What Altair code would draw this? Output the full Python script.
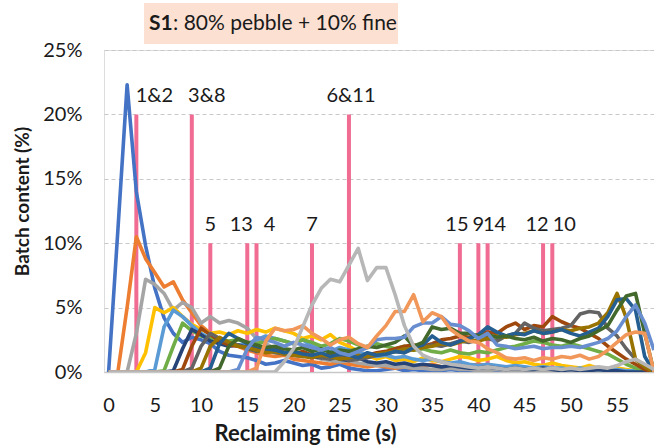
import altair as alt
import pandas as pd

# Reclaiming time axis (s)
times = list(range(60))

# Batch content (%) of each batch over reclaiming time
batch_01 = [0, 11.0, 22.3, 14.0, 9.8, 6.5, 4.2, 3.0, 2.3, 2.7,
            2.5, 2.2, 1.6, 1.3, 1.2, 1.1, 0.9, 0.6, 0.7, 0.9,
            0.7, 0.5, 0.6, 0.3, 0.4, 0.6, 0.3, 0.2, 0.1, 0.1,
            0.2, 0.3, 0.1, 0.2, 0.1, 0.0, 0.1, 0.2, 0.1, 0.0,
            0.1, 0.0, 0.0, 0.1, 0.0, 0.0, 0.1, 0.0, 0.0, 0.0,
            0.0, 0.1, 0.0, 0.0, 0.0, 0.1, 0.0, 0.0, 0.0, 0.0]
batch_02 = [0, 0, 5.0, 10.5, 8.8, 7.7, 6.6, 7.0, 5.6, 4.6,
            3.6, 3.0, 2.6, 2.2, 2.0, 1.7, 1.5, 1.3, 1.2, 1.3,
            1.0, 0.9, 0.8, 0.7, 0.6, 0.8, 0.6, 0.5, 0.4, 0.5,
            0.4, 0.3, 0.4, 0.3, 0.5, 0.6, 0.4, 0.3, 0.4, 0.5,
            0.6, 0.5, 0.4, 0.3, 0.2, 0.3, 0.2, 0.1, 0.2, 0.1,
            0.1, 0.2, 0.1, 0.1, 0.0, 0.1, 0.0, 0.0, 0.0, 0.0]
batch_03 = [0, 0, 0, 3.0, 7.2, 6.8, 6.1, 4.8, 5.4, 5.0,
            3.8, 4.3, 3.8, 4.0, 3.8, 3.4, 2.6, 2.2, 1.8, 1.6,
            1.5, 1.3, 1.2, 1.0, 0.9, 0.8, 0.9, 0.7, 0.6, 0.5,
            0.5, 0.4, 0.4, 0.3, 0.3, 0.2, 0.2, 0.3, 0.2, 0.2,
            0.1, 0.1, 0.2, 0.1, 0.1, 0.0, 0.1, 0.0, 0.0, 0.0,
            0.0, 0.0, 0.1, 0.0, 0.0, 0.0, 0.0, 0.0, 0.0, 0.0]
batch_04 = [0, 0, 0, 0, 1.5, 5.0, 4.6, 5.0, 4.3, 3.7,
            3.3, 3.0, 3.1, 2.9, 3.2, 3.0, 3.3, 3.1, 3.4, 3.2,
            3.0, 2.6, 2.8, 2.5, 2.9, 2.3, 2.0, 1.6, 1.3, 1.0,
            1.2, 0.9, 1.0, 0.8, 1.1, 0.9, 0.8, 1.0, 1.2, 1.1,
            0.9, 1.0, 1.2, 0.9, 0.7, 0.8, 0.6, 0.5, 0.7, 0.5,
            0.4, 0.3, 0.5, 0.3, 0.2, 0.3, 0.2, 0.1, 0.0, 0.0]
batch_05 = [0, 0, 0, 0, 0, 0.2, 3.5, 4.8, 4.3, 3.6,
            3.0, 2.6, 2.4, 2.3, 2.1, 2.2, 2.5, 2.8, 2.6, 2.4,
            2.2, 2.5, 2.0, 1.8, 1.6, 1.9, 1.7, 1.5, 1.4, 1.2,
            1.3, 1.1, 1.2, 1.0, 0.9, 1.0, 0.8, 0.7, 0.8, 0.6,
            0.5, 0.6, 0.5, 0.4, 0.5, 0.4, 0.3, 0.4, 0.3, 0.3,
            0.2, 0.3, 0.2, 0.2, 0.1, 0.2, 0.1, 0.1, 0.0, 0.0]
batch_06 = [0, 0, 0, 0, 0, 0, 0.1, 2.0, 3.8, 3.2,
            2.8, 2.6, 2.5, 2.4, 2.5, 2.3, 2.2, 2.4, 2.6, 2.4,
            2.2, 2.5, 2.3, 2.0, 2.2, 2.6, 2.4, 2.1, 1.9, 2.2,
            2.0, 1.8, 2.0, 1.7, 1.8, 1.6, 1.5, 1.7, 1.5, 1.4,
            1.6, 1.5, 1.7, 1.9, 2.0, 2.2, 2.4, 2.3, 2.1, 2.0,
            2.2, 2.0, 1.8, 1.6, 1.4, 1.0, 0.6, 0.3, 0.1, 0.0]
batch_07 = [0, 0, 0, 0, 0, 0, 0, 0.1, 1.8, 3.3,
            2.9, 2.4, 2.2, 2.0, 2.1, 1.9, 1.7, 1.6, 1.8, 1.5,
            1.3, 1.4, 1.2, 1.1, 1.3, 1.0, 0.9, 1.1, 0.8, 0.7,
            0.8, 0.6, 0.7, 0.5, 0.6, 0.5, 0.4, 0.5, 0.4, 0.3,
            0.3, 0.4, 0.3, 0.2, 0.3, 0.2, 0.2, 0.3, 0.2, 0.1,
            0.2, 0.1, 0.1, 0.2, 0.1, 0.1, 0.0, 0.0, 0.0, 0.0]
batch_08 = [0, 0, 0, 0, 0, 0, 0, 0, 0.2, 2.0,
            3.4, 2.9, 2.4, 2.1, 2.0, 1.9, 1.8, 1.6, 1.7, 1.5,
            1.4, 1.6, 1.3, 1.2, 1.4, 1.3, 1.1, 1.2, 1.3, 1.5,
            1.6, 1.8, 2.0, 2.1, 2.0, 2.2, 2.5, 2.6, 2.8, 2.7,
            2.9, 3.1, 3.0, 3.5, 3.8, 3.3, 3.6, 3.5, 4.3, 3.9,
            3.6, 3.4, 3.0, 2.6, 2.0, 1.5, 1.0, 0.6, 0.2, 0.0]
batch_09 = [0, 0, 0, 0, 0, 0, 0, 0, 0, 0.3,
            2.0, 3.0, 2.6, 2.3, 2.1, 1.8, 1.6, 1.7, 1.5, 1.4,
            1.3, 1.2, 1.4, 1.1, 1.0, 1.2, 0.9, 1.0, 1.1, 1.3,
            1.4, 1.6, 1.5, 1.8, 1.9, 2.1, 2.0, 2.2, 2.4, 2.3,
            2.5, 2.6, 2.4, 2.8, 3.0, 3.8, 3.4, 3.2, 3.3, 3.4,
            3.6, 4.5, 4.7, 4.6, 3.4, 2.8, 1.8, 1.0, 0.4, 0.0]
batch_10 = [0, 0, 0, 0, 0, 0, 0, 0, 0, 0,
            0.3, 2.0, 2.7, 2.3, 2.0, 1.9, 1.7, 1.5, 1.6, 1.4,
            1.3, 1.2, 1.1, 1.3, 1.2, 1.0, 1.1, 1.3, 1.2, 1.4,
            1.5, 1.6, 1.8, 1.7, 1.9, 2.0, 2.2, 2.1, 2.3, 2.5,
            2.4, 2.6, 2.8, 2.7, 2.9, 3.0, 3.2, 3.0, 3.1, 3.3,
            3.2, 3.4, 3.5, 3.8, 4.6, 6.1, 4.2, 1.0, 0.4, 0.0]
batch_11 = [0, 0, 0, 0, 0, 0, 0, 0, 0, 0,
            0, 0.3, 2.2, 3.0, 2.6, 2.2, 2.0, 1.8, 1.7, 1.5,
            1.6, 1.4, 1.3, 1.5, 1.2, 1.4, 1.3, 1.1, 1.5, 1.3,
            1.4, 1.6, 1.5, 1.9, 2.1, 2.8, 2.3, 2.1, 2.4, 2.6,
            2.9, 3.5, 3.1, 2.8, 3.0, 2.9, 3.2, 3.0, 3.1, 3.3,
            3.0, 2.8, 3.1, 3.4, 4.3, 5.6, 5.7, 4.8, 1.2, 0.0]
batch_12 = [0, 0, 0, 0, 0, 0, 0, 0, 0, 0,
            0, 0, 0.3, 2.0, 2.6, 2.3, 2.1, 1.9, 2.0, 1.8,
            1.7, 1.9, 1.6, 1.8, 1.5, 1.7, 1.6, 1.8, 2.0, 1.9,
            2.1, 2.3, 2.8, 2.0, 2.3, 3.5, 3.3, 3.4, 3.0, 3.0,
            2.8, 2.9, 2.7, 2.8, 2.6, 2.5, 2.7, 2.4, 2.6, 2.5,
            2.3, 2.6, 2.8, 3.2, 3.6, 4.8, 5.9, 6.1, 3.0, 0.0]
batch_13 = [0, 0, 0, 0, 0, 0, 0, 0, 0, 0,
            0, 0, 0, 0, 0.2, 1.8, 2.7, 2.5, 2.3, 2.0,
            2.3, 2.1, 1.9, 1.7, 1.9, 1.5, 1.3, 1.6, 1.9, 2.5,
            2.6, 2.6, 2.7, 3.5, 3.8, 3.8, 4.3, 3.7, 3.6, 3.2,
            2.6, 3.0, 2.1, 2.0, 1.8, 1.9, 2.0, 1.8, 1.9, 1.9,
            2.0, 1.9, 2.1, 2.3, 2.6, 3.2, 4.3, 5.2, 3.8, 1.7]
batch_14 = [0, 0, 0, 0, 0, 0, 0, 0, 0, 0,
            0, 0, 0, 0, 0, 0, 0.3, 2.4, 3.4, 3.2,
            3.3, 3.6, 3.0, 2.6, 2.1, 2.5, 2.7, 2.2, 1.9, 2.8,
            3.6, 4.7, 4.7, 6.0, 3.9, 4.6, 4.3, 3.3, 2.8, 2.4,
            2.3, 1.8, 1.5, 1.1, 1.0, 1.1, 0.9, 1.1, 1.0, 1.2,
            1.1, 1.3, 1.0, 1.2, 1.7, 2.3, 2.9, 3.1, 3.0, 0.0]
batch_15 = [0, 0, 0, 0, 0, 0, 0, 0, 0, 0,
            0, 0, 0, 0, 0, 0, 0, 0, 0, 0.8,
            1.8, 3.5, 5.2, 6.5, 7.2, 7.0, 8.3, 9.6, 7.1, 8.1,
            8.1, 6.0, 3.6, 2.0, 1.3, 1.0, 0.8, 0.6, 0.5, 0.4,
            0.3, 0.4, 0.3, 0.2, 0.3, 0.2, 0.3, 0.2, 0.3, 0.2,
            0.3, 0.2, 0.3, 0.4, 0.3, 0.5, 0.8, 1.0, 0.6, 0.2]

batches = [batch_01, batch_02, batch_03, batch_04, batch_05,
           batch_06, batch_07, batch_08, batch_09, batch_10,
           batch_11, batch_12, batch_13, batch_14, batch_15]
batch_names = [f"Batch {i:02d}" for i in range(1, 16)]
batch_colors = ["#4472C4", "#ED7D31", "#A5A5A5", "#FFC000", "#5B9BD5",
                "#70AD47", "#264478", "#9E480E", "#636363", "#997300",
                "#255E91", "#43682B", "#698ED0", "#F1975A", "#B7B7B7"]

# Sampling moments (s), their nominal height (%) and the batches they mark
marker_times = [3, 9, 26, 11, 15, 16, 22, 38, 40, 41, 47, 48]
marker_heights = [20, 20, 20, 10, 10, 10, 10, 10, 10, 10, 10, 10]
marker_labels = ["1&2", "3&8", "6&11", "5", "13", "4", "7", "15", "9", "14", "12", "10"]
# horizontal nudge of each label away from its neighbours, in pixels
label_shift = [18, 15, 2, 0, -6, 13, 0, -3, 0, 7, -6, 12]

PX_PER_SECOND = 550 / 59.5

rows = []
for name, values in zip(batch_names, batches):
    for t, v in zip(times, values):
        rows.append({"time": t, "content": v, "batch": name})
lines_df = pd.DataFrame(rows)

markers_df = pd.DataFrame({
    "time": marker_times,
    "height": marker_heights,
    "base": [0] * len(marker_times),
    "label": marker_labels,
    "shift": label_shift,
})

FONT = "Lato"
TEXT = "#1a1a1a"

x_scale = alt.Scale(domain=[-0.5, 59], nice=False, zero=False)
y_scale = alt.Scale(domain=[0, 25], nice=False)

x_axis = alt.Axis(
    values=list(range(0, 60, 5)), title="Reclaiming time (s)", grid=False,
    ticks=False, domainColor="#C8C8C8", domainWidth=1.5,
    labelFontSize=20, labelFont=FONT, labelColor=TEXT, labelPadding=23,
    titleFont=FONT, titleFontSize=22, titleFontWeight="bold", titleColor=TEXT,
    titleX=201, titleY=61, titleBaseline="middle", titleAnchor="start", titleAlign="center",
)
y_axis = alt.Axis(
    values=[0, 5, 10, 15, 20, 25], format="d", labelExpr="datum.value + '%'",
    title="Batch content (%)", domain=False, ticks=False,
    grid=True, gridColor="#C8C8C8", gridDash=[4, 3], gridWidth=1,
    labelFontSize=20, labelFont=FONT, labelColor=TEXT, labelPadding=22,
    titleFont=FONT, titleFontSize=19, titleFontWeight="bold", titleColor=TEXT,
    titleX=-82, titleY=151, titleBaseline="middle", titleAnchor="start", titleAlign="center",
)

bars = alt.Chart(markers_df).mark_rule(color="#F06C93", strokeWidth=4).encode(
    x=alt.X("time:Q", scale=x_scale, axis=x_axis),
    y=alt.Y("height:Q", scale=y_scale, axis=y_axis),
    y2="base:Q",
)

marker_text = alt.Chart(markers_df).transform_calculate(
    label_time=f"datum.time + datum.shift / {PX_PER_SECOND}"
).mark_text(
    font=FONT, fontSize=20, color=TEXT, baseline="middle", dy=-18
).encode(
    x=alt.X("label_time:Q", scale=x_scale),
    y=alt.Y("height:Q", scale=y_scale),
    text="label:N",
)

lines = alt.Chart(lines_df).mark_line(strokeWidth=3.6, strokeJoin="round", clip=True).encode(
    x=alt.X("time:Q", scale=x_scale),
    y=alt.Y("content:Q", scale=y_scale),
    color=alt.Color("batch:N", scale=alt.Scale(domain=batch_names, range=batch_colors), legend=None),
    order=alt.Order("time:Q"),
)

one_row = pd.DataFrame({"k": [0]})
title_box = alt.Chart(one_row).mark_rect(color="#FCE1D2").encode(
    x=alt.value(40), x2=alt.value(294), y=alt.value(-47), y2=alt.value(-6),
)
title_bold = alt.Chart(one_row).mark_text(
    text="S1", font=FONT, fontSize=21, fontWeight="bold", color=TEXT, align="left", baseline="middle"
).encode(x=alt.value(45), y=alt.value(-26))
title_rest = alt.Chart(one_row).mark_text(
    text=": 80% pebble + 10% fine", font=FONT, fontSize=21, color=TEXT, align="left", baseline="middle"
).encode(x=alt.value(69), y=alt.value(-26))

chart = alt.layer(bars, lines, marker_text, title_box, title_bold, title_rest).properties(
    width=550, height=322,
    padding={"left": 104, "top": 50, "right": 0, "bottom": 75},
    autosize=alt.AutoSizeParams(type="none"),
).configure_view(stroke=None).configure(background="white")

chart.save("out.html", embed_options={"renderer": "svg", "actions": False})
